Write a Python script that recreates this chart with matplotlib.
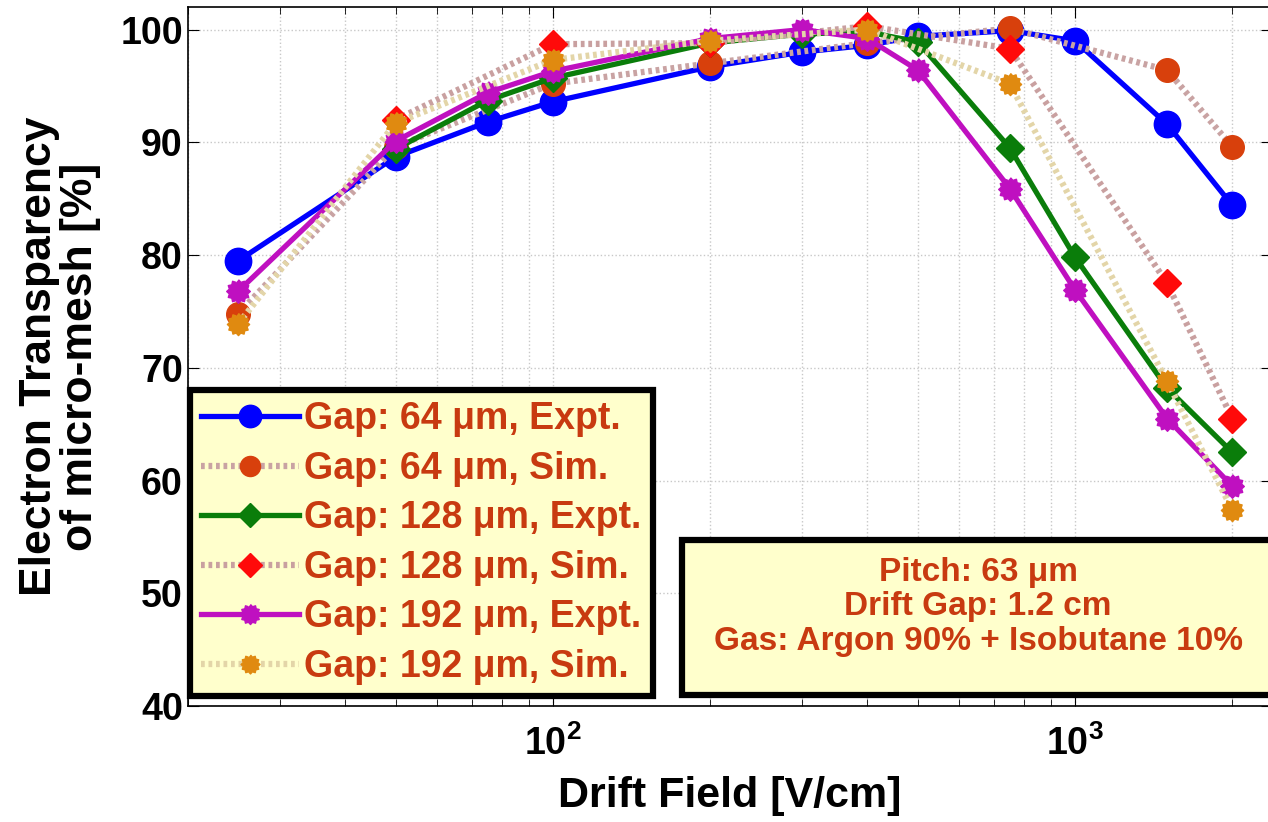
import numpy as np
import matplotlib
matplotlib.use('Agg')
import matplotlib.pyplot as plt
from matplotlib.patches import Rectangle
from matplotlib.ticker import FixedLocator, FuncFormatter, LogLocator, NullFormatter

# data
x_expt = [25, 50, 75, 100, 200, 300, 400, 500, 750, 1000, 1500, 2000]
x_expt_128 = [50, 75, 100, 200, 300, 400, 500, 750, 1000, 1500, 2000]
x_sim = [25, 50, 100, 200, 400, 750, 1500, 2000]
x_sim_128 = [50, 100, 200, 400, 750, 1500, 2000]

expt_64 = [79.5, 88.7, 91.8, 93.6, 96.7, 98.0, 98.6, 99.4, 99.9, 99.0, 91.6, 84.4]
expt_128 = [89.4, 93.7, 95.7, 98.8, 99.6, 99.8, 98.9, 89.5, 79.8, 68.2, 62.5]
expt_192 = [76.8, 90.1, 94.4, 96.3, 99.2, 100.0, 99.2, 96.4, 85.9, 76.9, 65.5, 59.5]

sim_64 = [74.8, 89.6, 95.2, 97.0, 98.8, 100.1, 96.4, 89.6]
sim_128 = [92.0, 98.7, 98.8, 100.3, 98.3, 77.5, 65.5]
sim_192 = [73.9, 91.7, 97.3, 99.0, 100.0, 95.2, 68.8, 57.4]

labels = ['Gap: 64 \u03bcm, Expt.', 'Gap: 64 \u03bcm, Sim.',
          'Gap: 128 \u03bcm, Expt.', 'Gap: 128 \u03bcm, Sim.',
          'Gap: 192 \u03bcm, Expt.', 'Gap: 192 \u03bcm, Sim.']

plt.rcParams['font.family'] = ['Liberation Sans', 'DejaVu Sans']
plt.rcParams['mathtext.fontset'] = 'custom'
plt.rcParams['mathtext.rm'] = 'Liberation Sans:bold'
plt.rcParams['mathtext.it'] = 'Liberation Sans:bold'
plt.rcParams['mathtext.bf'] = 'Liberation Sans:bold'
plt.rcParams['mathtext.default'] = 'rm'
txt_col = '#c83a10'

# burst marker (gear-like star)
ang = np.linspace(0, 2 * np.pi, 25)[:-1]
rad = np.where(np.arange(24) % 2 == 0, 1.0, 0.8)
burst = np.column_stack([rad * np.sin(ang), rad * np.cos(ang)])

fig = plt.figure(figsize=(12.68, 8.22), dpi=100)
ax = fig.add_axes([0.148, 0.141, 0.855, 0.8505])

sim_dash = (0, (0.6, 0.6))
ax.plot(x_expt, expt_64, '-', color='#0000ff', lw=3.8, marker='o', ms=19,
        label=labels[0], zorder=3)
ax.plot(x_sim, sim_64, linestyle=sim_dash, color='#c9a3a3', lw=4.5,
        marker='o', ms=17, mfc='#d8400c', mec='#d8400c', label=labels[1], zorder=3)
ax.plot(x_expt_128, expt_128, '-', color='#0a7d0a', lw=3.8, marker='D', ms=14,
        label=labels[2], zorder=3)
ax.plot(x_sim_128, sim_128, linestyle=sim_dash, color='#c9a0a0', lw=4.5,
        marker='D', ms=14, mfc='#ff0a0a', mec='#ff0a0a', label=labels[3], zorder=3)
ax.plot(x_expt, expt_192, '-', color='#bf10c0', lw=3.8, marker=burst, ms=17,
        label=labels[4], zorder=3)
ax.plot(x_sim, sim_192, linestyle=sim_dash, color='#e3d5a8', lw=4.5,
        marker=burst, ms=16, mfc='#e08a10', mec='#e08a10', label=labels[5], zorder=3)

ax.set_xscale('log')
ax.set_xlim(20, 2380)
ax.set_ylim(40, 102)
ax.set_yticks([40, 50, 60, 70, 80, 90, 100])
ax.xaxis.set_major_locator(FixedLocator([100, 1000]))
ax.xaxis.set_minor_locator(LogLocator(base=10, subs=np.arange(2, 10)))
ax.xaxis.set_minor_formatter(NullFormatter())
ax.xaxis.set_major_formatter(FuncFormatter(lambda v, p: r'$10^{%d}$' % int(round(np.log10(v)))))

ax.grid(True, which='both', axis='x', color='#c8c8c8', ls=':', lw=1)
ax.grid(True, which='major', axis='y', color='#c8c8c8', ls=':', lw=1)
ax.tick_params(which='both', direction='in', top=True, right=True)
ax.tick_params(which='major', length=8)
ax.tick_params(which='minor', length=5)
ax.tick_params(axis='x', pad=14)
for lab in ax.get_xticklabels() + ax.get_yticklabels():
    lab.set_fontweight('bold')
    lab.set_fontsize(27)
for s in ax.spines.values():
    s.set_linewidth(1.2)

ax.set_xlabel('Drift Field [V/cm]', fontsize=31, fontweight='bold', labelpad=9)
ax.set_ylabel('Electron Transparency\nof micro-mesh [%]', fontsize=32,
              fontweight='bold', labelpad=14, linespacing=1.0)

leg = ax.legend(loc='upper left', bbox_to_anchor=(0.002, 0.452),
                borderaxespad=0,
                prop={'weight': 'bold', 'size': 27}, handlelength=2.6,
                handletextpad=0.15, labelspacing=0.36, borderpad=0.3,
                fancybox=False, framealpha=1, facecolor='#ffffcc',
                edgecolor='black', markerscale=0.85)
leg.get_frame().set_linewidth(4.5)
for t in leg.get_texts():
    t.set_color(txt_col)
leg.set_zorder(5)

# info box
box = Rectangle((0.456, 0.016), 0.6, 0.222, transform=ax.transAxes,
                facecolor='#ffffcc', edgecolor='black', lw=4.5, zorder=5,
                clip_on=False)
ax.add_patch(box)
ax.text(0.729, 0.142, 'Pitch: 63 \u03bcm\nDrift Gap: 1.2 cm\nGas: Argon 90% + Isobutane 10%',
        transform=ax.transAxes, ha='center', va='center', fontsize=24,
        fontweight='bold', color=txt_col, linespacing=1.15, zorder=6)

fig.savefig('out.png', dpi=100)
